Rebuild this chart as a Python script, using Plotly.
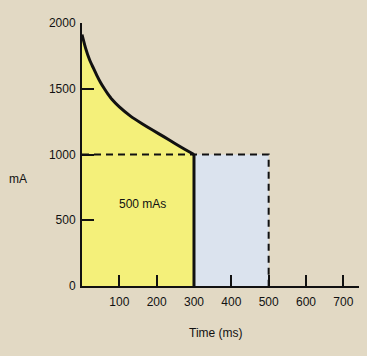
import plotly.graph_objects as go

# Falling-load exposure curve
time_ms = [0, 10, 20, 30, 40, 50, 60, 70, 80, 100, 130, 160, 190, 220, 250, 275, 300]
current_ma = [1912, 1805, 1722, 1660, 1600, 1546, 1500, 1458, 1420, 1362, 1292, 1236,
              1184, 1134, 1082, 1040, 1000]

# Constant-current comparison exposure
const_time = [0, 500]
const_current = [1000, 1000]

x_ticks = [100, 200, 300, 400, 500, 600, 700]
y_ticks = [0, 500, 1000, 1500, 2000]

area_label = "500 mAs"
x_title = "Time (ms)"
y_title = "mA"

BG = "#e2d9c4"
YELLOW = "#f4f07a"
BLUE = "#dbe3ee"
INK = "#111111"
FONT = "Liberation Sans, Arial, sans-serif"

fig = go.Figure()

# blue rectangle (300-500 ms at constant current)
fig.add_trace(go.Scatter(
    x=[time_ms[-1], time_ms[-1], const_time[1], const_time[1]],
    y=[0, const_current[1], const_current[1], 0],
    fill="toself", fillcolor=BLUE, line=dict(width=0), mode="lines",
    hoverinfo="skip", showlegend=False))

# yellow area under falling-load curve
fig.add_trace(go.Scatter(
    x=time_ms + [time_ms[-1], time_ms[0]],
    y=current_ma + [0, 0],
    fill="toself", fillcolor=YELLOW, line=dict(width=0), mode="lines",
    hoverinfo="skip", showlegend=False))

# dashed constant-current outline
fig.add_trace(go.Scatter(
    x=const_time + [const_time[1]],
    y=const_current + [0],
    mode="lines", line=dict(color=INK, width=2, dash="7px,5px"),
    hoverinfo="skip", showlegend=False))

# falling-load curve
fig.add_trace(go.Scatter(
    x=time_ms, y=current_ma,
    mode="lines", line=dict(color=INK, width=3, shape="spline", smoothing=0.6),
    hoverinfo="skip", showlegend=False))

# drop at end of exposure
fig.add_trace(go.Scatter(
    x=[time_ms[-1], time_ms[-1]], y=[current_ma[-1], 0],
    mode="lines", line=dict(color=INK, width=3),
    hoverinfo="skip", showlegend=False))

fig.add_annotation(x=161, y=620, text=area_label, showarrow=False,
                   xanchor="center", yanchor="middle",
                   font=dict(family=FONT, size=12, color=INK))
fig.add_annotation(xref="paper", yref="paper", x=-0.271, y=0.407,
                   xanchor="left", yanchor="middle",
                   text=y_title, showarrow=False,
                   font=dict(family=FONT, size=12, color=INK))
fig.add_annotation(xref="paper", yref="paper", x=0.484, y=-0.179,
                   xanchor="center", yanchor="middle",
                   text=x_title, showarrow=False,
                   font=dict(family=FONT, size=12, color=INK))

fig.update_xaxes(range=[0, 742], showgrid=False, zeroline=False,
                 showline=True, linecolor=INK, linewidth=2,
                 ticks="inside", ticklen=11, tickwidth=2, tickcolor=INK,
                 tickvals=x_ticks, ticklabelstandoff=4,
                 tickfont=dict(family=FONT, size=12, color=INK))
fig.update_yaxes(range=[0, 2000], showgrid=False, zeroline=False,
                 showline=True, linecolor=INK, linewidth=2,
                 ticks="inside", ticklen=12, tickwidth=2, tickcolor=INK,
                 tickvals=y_ticks, ticklabelstandoff=2,
                 tickfont=dict(family=FONT, size=12, color=INK))

fig.update_layout(
    width=367, height=356,
    margin=dict(l=82, r=8, t=23, b=70),
    paper_bgcolor=BG, plot_bgcolor=BG,
    showlegend=False,
)

fig.write_html("out.html", config={"displayModeBar": False},
               post_script="document.body.style.margin='0';document.body.style.background='%s';" % BG)
